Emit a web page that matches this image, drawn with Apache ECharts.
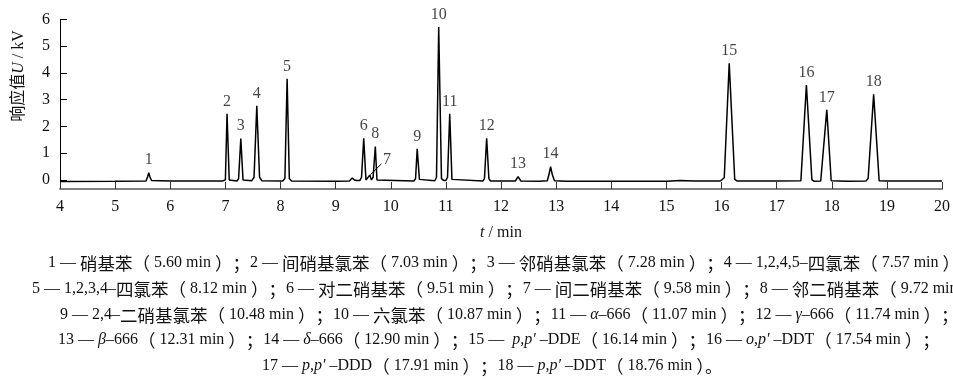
<!DOCTYPE html>
<html>
<head>
<meta charset="utf-8">
<script src="https://cdn.jsdelivr.net/npm/echarts@6/dist/echarts.min.js"></script>
<style>
html,body{margin:0;padding:0;background:#fff;}
#chart{width:953px;height:380px;}
</style>
</head>
<body>
<div id="chart"></div>
<script>
// chromatogram trace: retention time (min) and signal (kV)
const traceTime = [4.00,5.00,5.56,5.59,5.61,5.63,5.66,6.00,6.95,7.00,7.03,7.07,7.10,7.21,7.24,7.28,7.32,7.35,7.48,7.52,7.57,7.62,7.66,8.04,8.08,8.12,8.16,8.20,9.00,9.25,9.30,9.34,9.38,9.44,9.47,9.51,9.55,9.58,9.62,9.65,9.68,9.72,9.75,9.78,10.42,10.45,10.48,10.52,10.55,10.80,10.83,10.87,10.92,10.96,11.00,11.03,11.07,11.11,11.14,11.67,11.70,11.74,11.78,11.81,12.26,12.31,12.36,12.70,12.84,12.87,12.90,12.93,12.97,13.20,14.00,15.00,15.25,15.50,15.98,16.05,16.14,16.24,16.28,17.00,17.44,17.54,17.64,17.68,17.80,17.91,17.99,18.30,18.62,18.66,18.76,18.86,19.00,20.00];
const traceSignal = [-0.06,-0.05,-0.04,0.12,0.27,0.12,-0.02,-0.04,-0.04,0.00,2.47,0.00,-0.04,-0.04,0.05,1.55,0.00,-0.04,-0.03,0.10,2.77,0.10,-0.03,-0.04,0.05,3.78,0.05,-0.04,-0.05,-0.04,0.07,0.00,-0.02,-0.02,0.10,1.56,0.00,-0.02,0.18,0.00,0.10,1.25,0.00,-0.03,-0.04,0.05,1.16,0.02,-0.04,-0.03,0.10,5.72,0.05,-0.02,-0.02,0.10,2.47,0.02,-0.04,-0.04,0.05,1.56,0.05,-0.04,-0.04,0.12,-0.04,-0.05,-0.03,0.20,0.50,0.20,-0.03,-0.05,-0.05,-0.05,-0.02,-0.04,-0.04,0.08,4.36,0.02,-0.04,-0.04,-0.03,3.55,0.00,-0.05,-0.04,2.62,-0.03,-0.05,-0.04,0.05,3.20,-0.03,-0.04,-0.04];

// peak labels (placed above apex)
const peakIds     = ['1','2','3','4','5','6','8','9','10','11','12','13','14','15','16','17','18'];
const peakTimes   = [5.61,7.03,7.28,7.57,8.12,9.51,9.72,10.48,10.87,11.07,11.74,12.31,12.90,16.14,17.54,17.91,18.76];
const peakHeights = [0.27,2.47,1.55,2.77,3.78,1.56,1.25,1.16,5.72,2.47,1.56,0.12,0.50,4.36,3.55,2.62,3.20];

// peak 7 label with leader line
const peak7Label = [9.93, 0.77];
const peak7LeaderFrom = [9.63, 0.19];
const peak7LeaderTo = [9.83, 0.60];

const xTicks = [4,5,6,7,8,9,10,11,12,13,14,15,16,17,18,19,20];
const yTicks = [0,1,2,3,4,5,6];

const captionLines = [
  '1 — 硝基苯（ 5.60 min ）；2 — 间硝基氯苯（ 7.03 min ）；3 — 邻硝基氯苯（ 7.28 min ）；4 — 1,2,4,5–四氯苯（ 7.57 min ）',
  '5 — 1,2,3,4–四氯苯（ 8.12 min ）；6 — 对二硝基苯（ 9.51 min ）；7 — 间二硝基苯（ 9.58 min ）；8 — 邻二硝基苯（ 9.72 min ）；',
  '9 — 2,4–二硝基氯苯（ 10.48 min ）；10 — 六氯苯（ 10.87 min ）；11 — {i|α}–666（ 11.07 min ）；12 — {i|γ}–666（ 11.74 min ）；',
  '13 — {i|β}–666（ 12.31 min ）；14 — {i|δ}–666（ 12.90 min ）；15 —  {i|p,p′} –DDE（ 16.14 min ）；16 — {i|o,p′} –DDT（ 17.54 min ）；',
  '17 — {i|p,p′} –DDD（ 17.91 min ）；18 — {i|p,p′} –DDT（ 18.76 min ）。'
];
const captionLeft = [48, 32, 60, 58, 262];
const captionY = [263, 289, 315, 340, 366];

const FONT = "'Liberation Serif','Noto Sans CJK SC',serif";
const TXT = '#111';

const chart = echarts.init(document.getElementById('chart'), null, {renderer:'canvas'});

const lineData = traceTime.map((t,i)=>[t, traceSignal[i]]);
const labelData = peakIds.map((id,i)=>({name:id, value:[peakTimes[i], peakHeights[i]]}));
labelData.push({name:'7', value:peak7Label, label:{position:'inside'}});

const richBase = {
  r:{fontFamily:FONT, fontSize:16, color:TXT, fill:TXT},
  i:{fontFamily:FONT, fontSize:16, fontStyle:'italic', color:TXT, fill:TXT},
  c:{fontFamily:"'Noto Sans CJK SC',sans-serif", fontSize:17.5, color:TXT, fill:TXT}
};

// wrap CJK / full-width runs so they get their own size
function markCJK(s){
  return s.replace(/([\u3000-\u303f\u4e00-\u9fff\uff00-\uffef]+)/g, '{c|$1}');
}

const graphics = captionLines.map((s,k)=>({
  type:'text',
  x: captionLeft[k],
  y: captionY[k],
  silent:true,
  style:{
    text: markCJK(s),
    fontFamily: FONT,
    fontSize: 16,
    fill: TXT,
    align:'left',
    verticalAlign:'middle',
    rich: richBase
  }
}));
graphics.push({
  type:'text',
  x: 19, y: 76,
  rotation: Math.PI/2,
  silent:true,
  style:{
    text:'响应值{i|U} / kV',
    fontFamily: FONT,
    fontSize: 16,
    fill: TXT,
    align:'center',
    verticalAlign:'middle',
    rich: richBase
  }
});

chart.setOption({
  animation:false,
  backgroundColor:'#fff',
  grid:{left:60, right:10, top:19.5, bottom:191, containLabel:false},
  xAxis:{
    type:'value', min:4, max:20, interval:1,
    axisLine:{show:true, onZero:false, lineStyle:{color:'#808080', width:2}},
    axisTick:{show:true, inside:true, length:7, lineStyle:{color:'#333', width:1}},
    axisLabel:{margin:10, fontSize:16, fontFamily:FONT, color:TXT, customValues:xTicks},
    splitLine:{show:false},
    name:'{i|t} / min',
    nameLocation:'middle',
    nameGap:36,
    nameTextStyle:{fontSize:16, fontFamily:FONT, color:TXT, rich:richBase}
  },
  yAxis:{
    type:'value', min:-0.34, max:6,
    axisLine:{show:true, onZero:false, lineStyle:{color:'#000', width:1}},
    axisTick:{show:true, inside:true, length:7, customValues:yTicks, lineStyle:{color:'#000', width:1}},
    axisLabel:{margin:10, fontSize:16, fontFamily:FONT, color:TXT, customValues:yTicks},
    splitLine:{show:false}
  },
  series:[
    {
      type:'line', data:lineData, showSymbol:false, symbol:'none',
      lineStyle:{color:'#000', width:1.5}, z:3
    },
    {
      type:'scatter', data:labelData, symbolSize:1,
      itemStyle:{color:'rgba(0,0,0,0)'},
      label:{show:true, position:'top', distance:4, formatter:'{b}', fontSize:16, fontFamily:FONT, color:TXT},
      markLine:{
        silent:true, symbol:['none','none'],
        label:{show:false},
        lineStyle:{color:'#000', width:1, type:'solid'},
        data:[[{coord:peak7LeaderFrom},{coord:peak7LeaderTo}]]
      },
      z:4
    }
  ],
  graphic: graphics
});
</script>
</body>
</html>
